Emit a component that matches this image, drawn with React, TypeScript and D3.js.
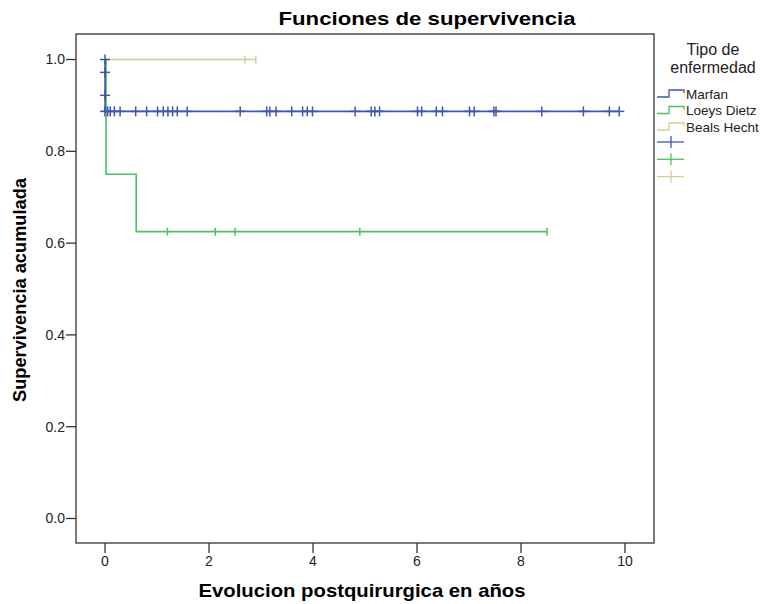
import * as d3 from "d3";

const groups = ["Marfan", "Loeys Dietz", "Beals Hecht"];
const colors = ["#3e58ac", "#4cc262", "#d3ce97"];

// curvas escalonadas (tiempo en años, supervivencia)
const marfanTime = [0, 0, 0, 0, 9.89];
const marfanSurv = [1, 0.972, 0.922, 0.887, 0.887];
const loeysTime = [0, 0.02, 0.6, 8.5];
const loeysSurv = [1, 0.75, 0.625, 0.625];
const bealsTime = [0, 2.9];
const bealsSurv = [1, 1];

// censurados
const marfanCensTime = [
  0, 0, 0, 0, 0.05, 0.1, 0.18, 0.29, 0.59, 0.8, 1.01, 1.12, 1.21, 1.3, 1.39,
  1.58, 2.6, 3.11, 3.17, 3.29, 3.59, 3.8, 3.89, 3.99, 4.81, 5.12, 5.19, 5.28,
  6.01, 6.09, 6.37, 6.49, 7.01, 7.1, 7.48, 7.52, 8.4, 9.2, 9.7, 9.89,
];
const marfanCensSurv = [
  1, 0.972, 0.922, 0.887, 0.887, 0.887, 0.887, 0.887, 0.887, 0.887, 0.887,
  0.887, 0.887, 0.887, 0.887, 0.887, 0.887, 0.887, 0.887, 0.887, 0.887, 0.887,
  0.887, 0.887, 0.887, 0.887, 0.887, 0.887, 0.887, 0.887, 0.887, 0.887, 0.887,
  0.887, 0.887, 0.887, 0.887, 0.887, 0.887, 0.887,
];
const loeysCensTime = [1.2, 2.12, 2.5, 4.9, 8.5];
const loeysCensSurv = [0.625, 0.625, 0.625, 0.625, 0.625];
const bealsCensTime = [2.69, 2.9];
const bealsCensSurv = [1, 1];

const xTicks = [0, 2, 4, 6, 8, 10];
const yTicks = [0, 0.2, 0.4, 0.6, 0.8, 1.0];

const width = 772;
const height = 604;
const left = 76;
const right = 654;
const top = 34;
const bottom = 543;

const font = "'Liberation Sans', Arial, sans-serif";

export default function App() {
  const x = d3.scaleLinear().domain([-0.558, 10.558]).range([left, right]);
  const y = d3.scaleLinear().domain([-0.0534, 1.0556]).range([bottom, top]);

  const line = d3
    .line<[number, number]>()
    .x((d) => x(d[0]))
    .y((d) => y(d[1]))
    .curve(d3.curveStepAfter);

  const curves = [
    d3.zip(marfanTime, marfanSurv) as [number, number][],
    d3.zip(loeysTime, loeysSurv) as [number, number][],
    d3.zip(bealsTime, bealsSurv) as [number, number][],
  ];
  const censors = [
    d3.zip(marfanCensTime, marfanCensSurv) as [number, number][],
    d3.zip(loeysCensTime, loeysCensSurv) as [number, number][],
    d3.zip(bealsCensTime, bealsCensSurv) as [number, number][],
  ];

  const drawOrder = [2, 1, 0];

  return (
    <div style={{ position: "absolute", left: 0, top: 0 }}>
      <svg width={width} height={height} style={{ display: "block", background: "#fff" }}>
        <text
          x={427}
          y={25}
          textAnchor="middle"
          fontFamily={font}
          fontWeight="bold"
          fontSize={19}
          textLength={297}
          lengthAdjust="spacingAndGlyphs"
        >
          Funciones de supervivencia
        </text>

        <rect
          x={left}
          y={top}
          width={right - left}
          height={bottom - top}
          fill="none"
          stroke="#333"
          strokeWidth={1.3}
        />

        {yTicks.map((t) => (
          <g key={t}>
            <line x1={left - 10} x2={left} y1={y(t)} y2={y(t)} stroke="#333" strokeWidth={1.3} />
            <text
              x={left - 11}
              y={y(t)}
              dy="0.35em"
              textAnchor="end"
              fontFamily={font}
              fontSize={14}
              fill="#222"
            >
              {t.toFixed(1)}
            </text>
          </g>
        ))}
        {xTicks.map((t) => (
          <g key={t}>
            <line x1={x(t)} x2={x(t)} y1={bottom} y2={bottom + 10} stroke="#333" strokeWidth={1.3} />
            <text
              x={x(t)}
              y={bottom + 18}
              dy="0.35em"
              textAnchor="middle"
              fontFamily={font}
              fontSize={14}
              fill="#222"
            >
              {t}
            </text>
          </g>
        ))}

        <text
          x={362}
          y={597}
          textAnchor="middle"
          fontFamily={font}
          fontWeight="bold"
          fontSize={19}
          textLength={327}
          lengthAdjust="spacingAndGlyphs"
        >
          Evolucion postquirurgica en años
        </text>
        <text
          transform="translate(26,290) rotate(-90)"
          textAnchor="middle"
          fontFamily={font}
          fontWeight="bold"
          fontSize={18}
          textLength={224}
          lengthAdjust="spacingAndGlyphs"
        >
          Supervivencia acumulada
        </text>

        {drawOrder.map((i) => (
          <g key={groups[i]}>
            <path d={line(curves[i]) ?? ""} fill="none" stroke={colors[i]} strokeWidth={1.6} />
            {censors[i].map((c, j) => (
              <g key={j} stroke={colors[i]} strokeWidth={1.5}>
                <line
                  x1={x(c[0])}
                  x2={x(c[0])}
                  y1={y(c[1]) - (i === 0 ? 5 : 4)}
                  y2={y(c[1]) + (i === 0 ? 5 : 4)}
                />
                {i === 0 && (
                  <line x1={x(c[0]) - 5} x2={x(c[0]) + 5} y1={y(c[1])} y2={y(c[1])} />
                )}
              </g>
            ))}
          </g>
        ))}

        <g fontFamily={font} fill="#222">
          <text x={713} y={55} textAnchor="middle" fontSize={16}>Tipo de</text>
          <text x={713} y={73} textAnchor="middle" fontSize={16}>enfermedad</text>
          {groups.map((g, i) => {
            const cy = 94 + i * 16.5;
            return (
              <g key={g}>
                <path
                  d={`M657,${cy + 3}H669V${cy - 4}H684V${cy - 1}`}
                  fill="none"
                  stroke={colors[i]}
                  strokeWidth={1.3}
                />
                <text x={686} y={cy} dy="0.35em" fontSize={13.5}>
                  {g}
                </text>
              </g>
            );
          })}
          {groups.map((g, i) => {
            const cy = 142 + i * 17.3;
            return (
              <g key={"c" + g} stroke={colors[i]} strokeWidth={1.3}>
                <line x1={657} x2={684} y1={cy} y2={cy} />
                <line x1={671} x2={671} y1={cy - 6} y2={cy + 6} />
              </g>
            );
          })}
        </g>
      </svg>
    </div>
  );
}
